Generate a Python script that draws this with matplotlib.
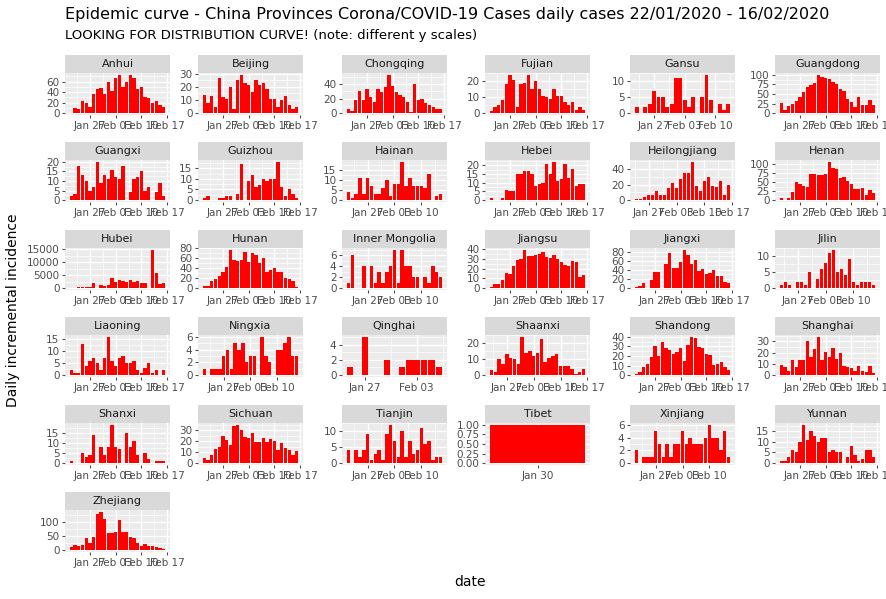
import numpy as np
import matplotlib
matplotlib.use('Agg')
import matplotlib.pyplot as plt
from matplotlib.ticker import MaxNLocator, AutoMinorLocator

# day 0 = 22/01/2020; each province: (first day index, daily cases)
provinces = ['Anhui', 'Beijing', 'Chongqing', 'Fujian', 'Gansu', 'Guangdong',
             'Guangxi', 'Guizhou', 'Hainan', 'Hebei', 'Heilongjiang', 'Henan',
             'Hubei', 'Hunan', 'Inner Mongolia', 'Jiangsu', 'Jiangxi', 'Jilin',
             'Liaoning', 'Ningxia', 'Qinghai', 'Shaanxi', 'Shandong', 'Shanghai',
             'Shanxi', 'Sichuan', 'Tianjin', 'Tibet', 'Xinjiang', 'Yunnan',
             'Zhejiang']
starts = [0, 0, 0, 0, 1, 0,
          0, 0, 0, 0, 2, 0,
          0, 0, 0, 0, 0, 1,
          0, 0, 3, 1, 0, 0,
          0, 0, 0, 8, 0, 0,
          0]
cases = [
    [1,9,7,24,20,11,36,46,48,37,60,43,68,72,50,60,73,68,46,50,30,28,20,24,16,12],
    [14,8,13,5,27,12,11,20,3,25,29,23,21,16,25,21,23,18,11,11,5,10,13,6,3,5],
    [6,3,18,30,18,34,22,15,34,29,36,53,38,29,25,22,15,2,40,18,19,14,11,8,6,6],
    [1,4,5,8,18,24,21,4,18,19,24,15,20,15,11,10,9,15,11,11,7,5,7,2,4,2],
    [2,0,2,3,7,5,5,2,3,11,11,4,2,5,0,5,12,4,0,3,1,3],
    [26,7,19,25,32,41,56,69,74,79,100,95,93,90,82,75,62,59,37,29,17,41,22,20,34,22],
    [2,3,18,13,10,5,7,20,9,13,11,16,12,11,18,0,4,11,12,15,5,7,0,4,9,2],
    [1,2,0,0,1,1,2,2,0,3,17,0,9,12,6,7,10,9,10,10,18,6,2,5,3,1],
    [4,1,3,11,3,11,7,3,3,6,10,2,8,8,19,7,11,7,7,7,6,13,0,2,3],
    [1,0,0,1,6,5,5,15,15,17,17,15,8,9,10,21,15,22,11,12,21,13,18,8,9,9],
    [2,2,4,6,6,12,6,7,15,22,15,27,35,35,49,18,12,25,29,18,17,25,6,20],
    [5,0,5,22,52,46,40,38,72,72,71,71,73,107,89,86,61,66,53,46,31,30,34,15,28,20],
    [200,100,300,300,400,400,2000,0,1100,900,1300,4000,2400,3000,2800,2400,3000,2400,2600,2100,1800,0,14800,6000,1500,2000],
    [4,4,15,19,25,32,42,77,56,55,57,73,52,71,67,51,61,32,36,40,33,33,21,19,14,2],
    [1,6,0,0,4,0,4,1,3,1,3,4,7,1,7,4,4,2,2,0,2,1,4,3,2],
    [1,4,4,8,15,14,23,29,30,39,33,33,34,35,37,32,31,34,30,27,24,23,28,27,11,13],
    [2,4,11,0,18,36,36,0,53,78,45,45,57,84,72,53,62,37,41,31,33,39,27,27,14,12],
    [1,2,1,0,2,2,1,5,0,3,6,8,11,12,5,6,4,9,2,1,2,2,2,1],
    [2,1,1,13,4,6,7,5,2,7,16,6,4,7,8,5,5,6,2,1,3,5,1,2,0,2],
    [1,0,1,1,1,3,4,1,5,4,5,2,3,3,0,6,3,2,0,4,4,5,6,3,3],
    [1,0,5,0,0,2,0,1,2,2,2,2,1],
    [3,2,10,7,13,11,10,7,24,14,15,12,14,23,8,11,12,13,6,6,6,4,1,2,4],
    [1,3,9,12,19,30,20,35,28,26,22,24,28,15,32,40,39,29,28,22,21,11,12,14,9,5],
    [9,7,4,13,7,13,13,30,16,23,34,13,21,16,24,14,20,8,7,6,4,8,4,3,8,2],
    [1,0,0,5,3,4,14,0,8,4,8,19,8,7,0,15,8,11,4,0,5,2,0,1,1,1],
    [5,3,7,13,15,25,21,17,34,35,30,24,23,28,19,19,23,19,22,20,12,18,14,12,7,11],
    [4,0,4,2,4,9,1,3,4,1,9,12,7,2,10,2,7,3,4,11,6,7,1,2,2],
    [1],
    [2,0,1,1,1,5,3,1,3,1,3,3,5,3,4,3,3,3,4,6,4,4,2,5,1],
    [1,1,3,6,5,10,18,11,15,13,10,12,12,5,6,5,5,0,3,8,4,1,2,6,6,3],
    [10,17,15,17,43,24,47,128,135,110,61,61,64,107,65,63,47,42,26,15,23,15,15,12,7,4],
]
tick_days = [5, 12, 19, 26]
tick_names = ['Jan 27', 'Feb 03', 'Feb 10', 'Feb 17']

W, H = 887, 599
fig = plt.figure(figsize=(W / 100, H / 100), dpi=100)
lefts = [65, 198, 342, 485, 630, 775]
pw, ph, sh = 105, 42, 18
tops = [55, 142, 230, 317, 405, 492]

for i, name in enumerate(provinces):
    r, c = divmod(i, 6)
    x0, y0 = lefts[c], tops[r]
    s = starts[i]
    v = np.array(cases[i], dtype=float)
    days = np.arange(s, s + len(v))
    ax = fig.add_axes([x0 / W, 1 - (y0 + sh + ph) / H, pw / W, ph / H])
    st = fig.add_axes([x0 / W, 1 - (y0 + sh) / H, pw / W, sh / H])
    st.set_facecolor('#D9D9D9')
    st.set_xticks([]); st.set_yticks([])
    for sp in st.spines.values():
        sp.set_visible(False)
    st.text(0.5, 0.5, name, ha='center', va='center', fontsize=8, color='#1A1A1A',
            transform=st.transAxes)
    ax.set_facecolor('#EBEBEB')
    ax.bar(days, v, width=0.9, color='red')
    lo, hi = days[0] - 0.45, days[-1] + 0.45
    pad = (hi - lo) * 0.05
    ax.set_xlim(lo - pad, hi + pad)
    vm = v.max()
    ax.yaxis.set_major_locator(MaxNLocator(nbins=5, steps=[1, 2, 2.5, 5, 10]))
    ax.yaxis.set_minor_locator(AutoMinorLocator(2))
    if len(v) == 1:
        ax.set_xticks([days[0]])
        ax.set_xticklabels(['Jan 30'])
    else:
        tk = [(d, n) for d, n in zip(tick_days, tick_names) if lo - pad <= d <= hi + pad]
        ax.set_xticks([d for d, n in tk])
        ax.set_xticklabels([n for d, n in tk])
        ax.xaxis.set_minor_locator(AutoMinorLocator(2))
    ax.set_ylim(-0.05 * vm, vm * 1.05)
    ax.grid(which='major', color='white', linewidth=1.0)
    ax.grid(which='minor', color='white', linewidth=0.5)
    ax.set_axisbelow(True)
    for sp in ax.spines.values():
        sp.set_visible(False)
    ax.tick_params(which='major', labelsize=7.5, colors='#4D4D4D', length=2.5, pad=1.5)
    ax.tick_params(which='minor', length=0)

fig.text(65 / W, 1 - 14 / H, 'Epidemic curve - China Provinces Corona/COVID-19 Cases daily cases 22/01/2020 - 16/02/2020',
         fontsize=11.5, va='center')
fig.text(65 / W, 1 - 36 / H, 'LOOKING FOR DISTRIBUTION CURVE! (note: different y scales)',
         fontsize=9.5, va='center')
fig.text(470 / W, 1 - 582 / H, 'date', fontsize=10, ha='center', va='center')
fig.text(13 / W, 1 - 310 / H, 'Daily incremental incidence', fontsize=10, rotation=90,
         ha='center', va='center')
fig.savefig('out.png', dpi=100)
